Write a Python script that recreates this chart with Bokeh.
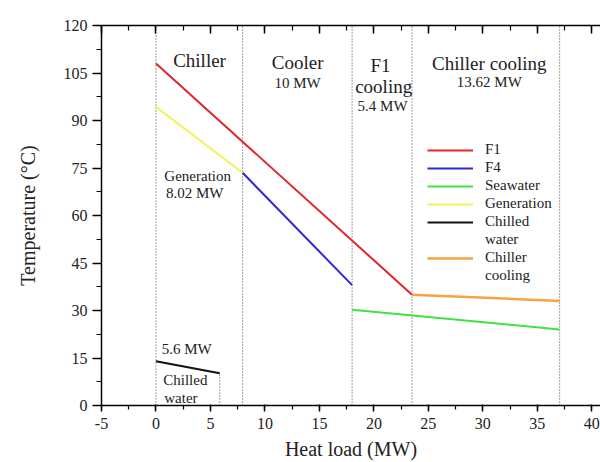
from bokeh.plotting import figure
from bokeh.models import LinearAxis, SingleIntervalTicker, Legend, LegendItem
from bokeh.core.properties import value
from bokeh.embed import file_html
from bokeh.resources import INLINE

# ---- data ----
f1_x = [0, 23.5]
f1_y = [108, 35]
f4_x = [7.95, 18]
f4_y = [73.5, 38]
sea_x = [18, 37.05]
sea_y = [30.2, 24]
gen_x = [0, 7.95]
gen_y = [94.3, 73.5]
chw_x = [0, 5.85]
chw_y = [14, 10.2]
cc_x = [23.5, 37.05]
cc_y = [35, 33]
divider_x = [0, 7.95, 18, 23.5, 37.05]

FONT = "Liberation Serif"
TXT = "#222222"

p = figure(width=600, height=462, x_range=(-5, 40.8), y_range=(0, 120),
           output_backend="svg", toolbar_location=None,
           min_border_left=101, min_border_right=0, min_border_top=25, min_border_bottom=57)
p.outline_line_color = None
p.xgrid.visible = False
p.ygrid.visible = False
p.background_fill_color = "white"

xt = SingleIntervalTicker(interval=5, num_minor_ticks=2)
yt = SingleIntervalTicker(interval=15, num_minor_ticks=2)
p.xaxis.ticker = xt
p.yaxis.ticker = yt

for ax in (p.xaxis[0], p.yaxis[0]):
    ax.axis_line_width = 1.5
    ax.major_tick_line_width = 1.5
    ax.minor_tick_line_width = 1.2
    ax.major_label_text_font = FONT
    ax.major_label_text_font_size = "16px"
    ax.major_label_text_color = TXT
    ax.axis_label_text_font = FONT
    ax.axis_label_text_font_size = "20px"
    ax.axis_label_text_font_style = "normal"
    ax.axis_label_text_color = TXT

p.yaxis.major_tick_out = 9
p.yaxis.major_tick_in = 0
p.yaxis.minor_tick_out = 5
p.yaxis.minor_tick_in = 0
p.yaxis.major_label_standoff = 5
p.yaxis.axis_label = "Temperature (°C)"
p.yaxis.axis_label_standoff = 22

p.xaxis.major_tick_out = 6
p.xaxis.major_tick_in = 1
p.xaxis.minor_tick_out = 4
p.xaxis.minor_tick_in = 0
p.xaxis.major_label_standoff = 6
p.xaxis.axis_label = "Heat load (MW)"
p.xaxis.axis_label_standoff = 6
p.xaxis.major_label_overrides = {-5: "-5"}

top = LinearAxis(ticker=SingleIntervalTicker(interval=5, num_minor_ticks=2))
top.major_label_text_font_size = "10px"
top.major_label_text_color = None
top.major_tick_out = 0
top.major_tick_in = 8
top.minor_tick_out = 0
top.minor_tick_in = 5
top.axis_line_width = 1.5
top.major_tick_line_width = 1.5
top.minor_tick_line_width = 1.2
top.major_label_standoff = 0
p.add_layout(top, "above")

# dividers
p.segment(x0=divider_x, y0=0, x1=divider_x, y1=120, line_color="#444444",
          line_width=1, line_dash="1 2")
p.segment(x0=[chw_x[1]], y0=[0], x1=[chw_x[1]], y1=[chw_y[1]], line_color="#444444",
          line_width=1, line_dash="1 2")

r_f1 = p.line(f1_x, f1_y, line_color="#e3242b", line_width=2)
r_f4 = p.line(f4_x, f4_y, line_color="#2b2bd0", line_width=2)
r_sea = p.line(sea_x, sea_y, line_color="#3ee43e", line_width=2)
r_gen = p.line(gen_x, gen_y, line_color="#f2f25a", line_width=2)
r_chw = p.line(chw_x, chw_y, line_color="#111111", line_width=2)
r_cc = p.line(cc_x, cc_y, line_color="#f5a344", line_width=2.5)
r_blank = p.line(chw_x, chw_y, line_alpha=0)

legend = Legend(items=[
    LegendItem(label="F1", renderers=[r_f1]),
    LegendItem(label="F4", renderers=[r_f4]),
    LegendItem(label="Seawater", renderers=[r_sea]),
    LegendItem(label="Generation", renderers=[r_gen]),
    LegendItem(label="Chilled", renderers=[r_chw]),
    LegendItem(label="water", renderers=[r_blank]),
    LegendItem(label="Chiller", renderers=[r_cc]),
    LegendItem(label="cooling", renderers=[r_blank]),
], location=(326, 121))
legend.border_line_color = None
legend.background_fill_alpha = 0
legend.padding = 0
legend.margin = 0
legend.spacing = 1
legend.glyph_width = 46
legend.glyph_height = 14
legend.label_height = 14
legend.label_standoff = 12
legend.label_text_font = FONT
legend.label_text_font_size = "15px"
legend.label_text_color = TXT
p.add_layout(legend)

# annotations
big_x = [4.0, 13.0, 20.6, 20.9, 30.6]
big_y = [108.9, 108.3, 107.4, 100.7, 108.1]
big_t = ["Chiller", "Cooler", "F1", "cooling", "Chiller cooling"]
p.text(x=big_x, y=big_y, text=big_t, text_font=value(FONT), text_font_size="19px",
       text_align="center", text_baseline="middle", text_color=TXT)

sm_x = [13.0, 20.8, 30.6]
sm_y = [101.8, 94.7, 102.1]
sm_t = ["10 MW", "5.4 MW", "13.62 MW"]
p.text(x=sm_x, y=sm_y, text=sm_t, text_font=value(FONT), text_font_size="15px",
       text_align="center", text_baseline="middle", text_color=TXT)

l_x = [0.77, 0.92, 0.52, 0.67, 0.76]
l_y = [72.6, 67.2, 17.9, 7.9, 2.3]
l_t = ["Generation", "8.02 MW", "5.6 MW", "Chilled", "water"]
p.text(x=l_x, y=l_y, text=l_t, text_font=value(FONT), text_font_size="15px",
       text_align="left", text_baseline="middle", text_color=TXT)

open("out.html", "w").write(file_html(p, INLINE))
